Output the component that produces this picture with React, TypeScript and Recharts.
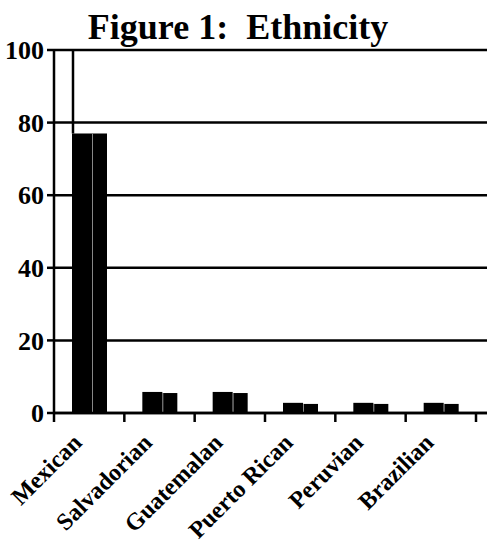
import { BarChart, Bar, XAxis, YAxis, CartesianGrid } from 'recharts'

const categories = ['Mexican', 'Salvadorian', 'Guatemalan', 'Puerto Rican', 'Peruvian', 'Brazilian']
const frontPct = [77, 5.8, 5.8, 2.8, 2.8, 2.8]
const sidePct = [77, 5.5, 5.5, 2.5, 2.5, 2.5]
const yTicks = [0, 20, 40, 60, 80, 100]

// each category sits in the middle of a unit slot; whole numbers are the slot edges
const rows = categories.map((name, i) => ({ name, slot: i + 0.5, front: frontPct[i], side: sidePct[i] }))
const xTicks = Array.from({ length: categories.length * 2 + 1 }, (_, i) => i / 2)

const serif = "'Liberation Serif', 'Times New Roman', serif"

// eslint-disable-next-line @typescript-eslint/no-explicit-any
function FrontBar(props: any) {
  const { x, y, width, height, index, background } = props
  return (
    <g>
      <rect x={x} y={y} width={width} height={height} fill="#000" />
      {index === 0 && background ? (
        <line x1={x + 1} x2={x + 1} y1={background.y} y2={y} stroke="#000" strokeWidth={2.5} />
      ) : null}
    </g>
  )
}

// eslint-disable-next-line @typescript-eslint/no-explicit-any
function SideBar(props: any) {
  const { x, y, width, height } = props
  return (
    <g>
      <rect x={x} y={y} width={width} height={height} fill="#000" />
      <line x1={x + 0.5} x2={x + 0.5} y1={y} y2={y + height} stroke="#888" strokeWidth={1} />
    </g>
  )
}

// slot edges get a tick mark, slot middles get the rotated category name
// eslint-disable-next-line @typescript-eslint/no-explicit-any
function SlotTick({ x, y, payload }: any) {
  const v = payload.value as number
  if (Number.isInteger(v)) {
    return <line x1={x} x2={x} y1={y} y2={y + 9} stroke="#000" strokeWidth={2.5} />
  }
  return (
    <g transform={`translate(${x - 6},${y + 31})`}>
      <text
        transform="rotate(-45)"
        textAnchor="end"
        fontFamily={serif}
        fontWeight="bold"
        fontSize={24}
        fill="#000"
      >
        {categories[Math.floor(v)]}
      </text>
    </g>
  )
}

export default function App() {
  return (
    <div style={{ position: 'absolute', left: 0, top: 0, width: 487, height: 542, background: '#fff' }}>
      <svg width={487} height={50} style={{ position: 'absolute', left: 0, top: 0 }}>
        <text x={238} y={39} textAnchor="middle" fontFamily={serif} fontWeight="bold" fontSize={36} fill="#000">
          Figure 1:{'\u00a0\u00a0'}Ethnicity
        </text>
      </svg>
      <BarChart
        width={487}
        height={542}
        data={rows}
        margin={{ top: 50, right: 0, bottom: 0, left: 0 }}
        barGap={0}
      >
        <CartesianGrid vertical={false} stroke="#000" strokeWidth={2.5} />
        <XAxis
          dataKey="slot"
          type="number"
          domain={[0, categories.length]}
          ticks={xTicks}
          interval={0}
          padding={{ left: 0, right: 11 }}
          height={129}
          tickLine={false}
          tickSize={0}
          tickMargin={0}
          tick={<SlotTick />}
          axisLine={{ stroke: '#000', strokeWidth: 2.5 }}
        />
        <YAxis
          width={54}
          domain={[0, 100]}
          ticks={yTicks}
          interval={0}
          tickSize={7}
          tickMargin={3}
          tickLine={{ stroke: '#000', strokeWidth: 2.5 }}
          axisLine={{ stroke: '#000', strokeWidth: 2.5 }}
          tick={{ fill: '#000', fontSize: 26, fontWeight: 'bold', fontFamily: serif }}
        />
        <Bar dataKey="front" barSize={20} fill="#000" shape={<FrontBar />} isAnimationActive={false} />
        <Bar dataKey="side" barSize={15} fill="#000" shape={<SideBar />} isAnimationActive={false} />
      </BarChart>
    </div>
  )
}
